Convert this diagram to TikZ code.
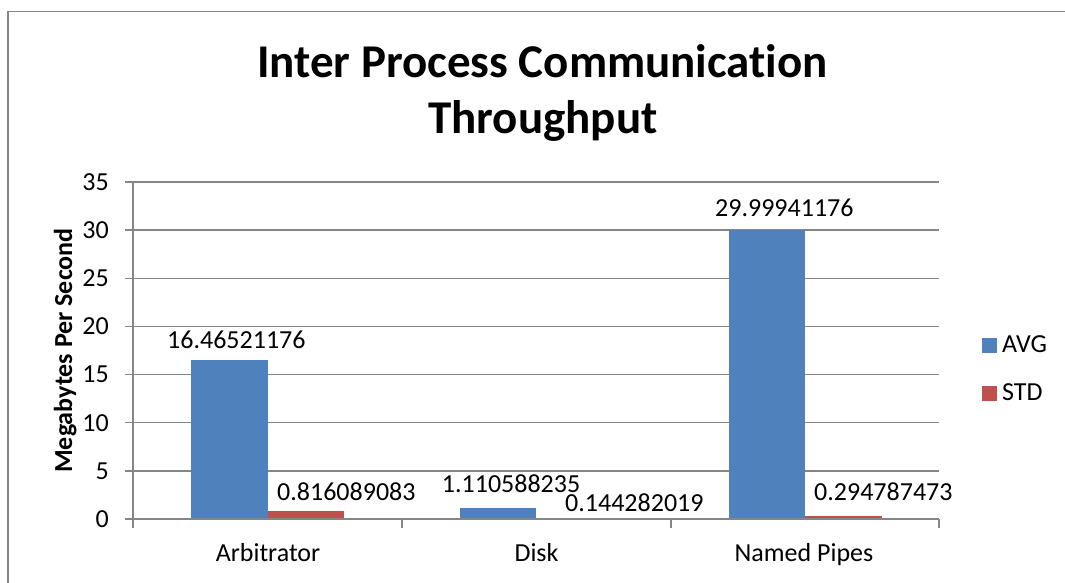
\documentclass[tikz,border=0pt]{standalone}
\usepackage{fontspec}
\setmainfont{Carlito}[Ligatures=CommonOff]
\definecolor{avgblue}{HTML}{4F81BD}
\definecolor{stdred}{HTML}{C0504D}
\definecolor{gridgrey}{HTML}{868686}
\begin{document}
\begin{tikzpicture}[x=1pt,y=-1pt,
  lbl/.style={inner sep=0pt,font=\fontsize{26}{30}\selectfont},
  ttl/.style={inner sep=0pt,font=\fontsize{47}{56}\selectfont\bfseries},
  gridline/.style={draw=gridgrey,line width=1.4pt},
  avgbar/.style={fill=avgblue,draw=none},
  stdbar/.style={fill=stdred,draw=none}]
\useasboundingbox (0,0) rectangle (1065,582);
\fill[white] (0,0) rectangle (1065,582);
% chart frame
\draw[gridgrey,line width=1pt] (1070,11) -- (8,11) -- (8,590);
\draw[gridgrey,line width=2pt] (8,11) -- (8,590);
% title
\node[ttl,anchor=base] (t1) at (542.5,77) {Inter Process Communication};
\node[ttl,anchor=base] (t2) at (543,133) {Throughput};
% gridlines, 5 units = 48.14 px
\foreach \k in {1,...,7}
  \draw[gridline] (125,{519-48.14*\k}) -- (939,{519-48.14*\k});
% tick labels
\foreach \k in {0,...,7}
  \node[lbl,anchor=east] (y\k) at (109,{519-48.14*\k}) {\pgfmathparse{int(5*\k)}\pgfmathresult};
% bars (value * 9.628 px)
\path[avgbar] (191,519) rectangle (268,{519-16.46521176*9.628});
\path[stdbar] (268,519) rectangle (344,{519-0.816089083*9.628});
\path[avgbar] (460,519) rectangle (536,{519-1.110588235*9.628});
\path[stdbar] (536,519) rectangle (612,{519-0.144282019*9.628});
\path[avgbar] (728.5,519) rectangle (805,{519-29.99941176*9.628});
\path[stdbar] (805,519) rectangle (882,{519-0.294787473*9.628});
% axes and ticks
\draw[gridline] (125,519) -- (939,519);
\draw[gridline] (133,182) -- (133,528);
\foreach \xx in {402,671,939}
  \draw[gridline] (\xx,519) -- (\xx,528);
% data labels
\node[lbl,anchor=base west] (d1) at (167,348) {16.46521176};
\node[lbl,anchor=base west] (d2) at (277,500.7) {0.816089083};
\node[lbl,anchor=base west] (d3) at (441.7,492) {1.110588235};
\node[lbl,anchor=base west] (d4) at (565,511.7) {0.144282019};
\node[lbl,anchor=base west] (d5) at (715,216.7) {29.99941176};
\node[lbl,anchor=base west] (d6) at (814,500) {0.294787473};
% category labels
\node[lbl,anchor=base] (c1) at (268,561.7) {Arbitrator};
\node[lbl,anchor=base] (c2) at (536.5,561.7) {Disk};
\node[lbl,anchor=base] (c3) at (804,561.7) {Named Pipes};
% axis title
\node[lbl,font=\fontsize{26}{30}\selectfont\bfseries,anchor=base,rotate=90] (ax) at (72,350.5) {Megabytes Per Second};
% legend
\fill[avgblue] (981.7,338.3) rectangle (996.7,352.7);
\fill[stdred] (981.7,386) rectangle (996.7,400.7);
\node[lbl,anchor=base west] (l1) at (1002,352.7) {AVG};
\node[lbl,anchor=base west] (l2) at (1002,400.7) {STD};
\end{tikzpicture}
\end{document}
